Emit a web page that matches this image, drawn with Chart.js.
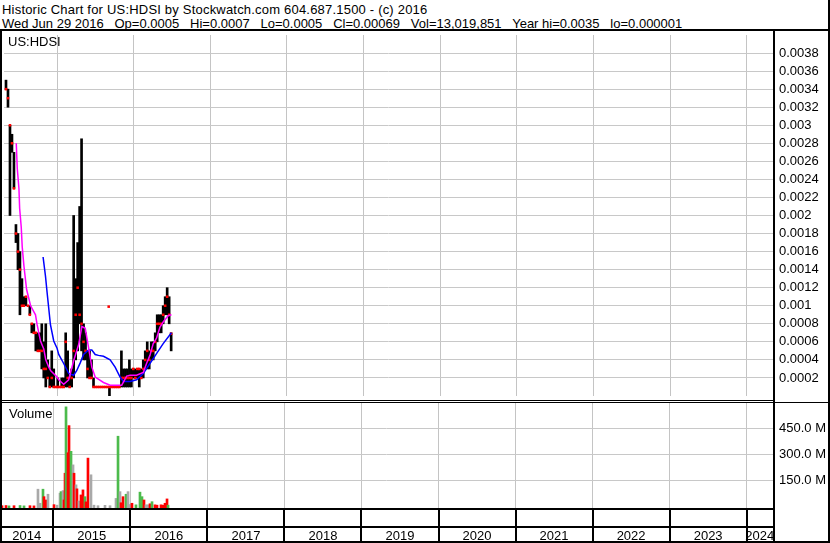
<!DOCTYPE html>
<html>
<head>
<meta charset="utf-8">
<script src="https://cdn.jsdelivr.net/npm/chart.js@4.4.0/dist/chart.umd.min.js"></script>
<style>
  html, body { margin: 0; padding: 0; background: #fff; }
  #wrap { position: relative; width: 830px; height: 543px; overflow: hidden; font-family: "Liberation Sans", Arial, sans-serif; }
  #head { position: absolute; left: 0; top: 0; width: 830px; height: 31px; box-sizing: border-box;
          border-bottom: 2px solid #000; border-right: 2px solid #000;
          font-size: 13px; line-height: 13.5px; white-space: pre; padding: 3px 0 0 2px; color: #000; }
  #head .l1 { letter-spacing: 0.2px; }
  canvas { position: absolute; left: 0; }
  #price { top: 31px; }
  #vol { top: 400px; }
</style>
</head>
<body>
<div id="wrap">
  <div id="head"><div class="l1">Historic Chart for US:HDSI by Stockwatch.com 604.687.1500 - (c) 2016</div><div>Wed Jun 29 2016   Op=0.0005   Hi=0.0007   Lo=0.0005   Cl=0.00069   Vol=13,019,851   Year hi=0.0035   lo=0.000001</div></div>
  <canvas id="price" width="830" height="369"></canvas>
  <canvas id="vol" width="830" height="143"></canvas>
</div>
<script>
// price bars (dates as decimal years)
const barYears = [
  2014.334, 2014.360, 2014.386, 2014.412, 2014.438, 2014.464, 2014.490, 2014.516, 2014.542, 2014.568,
  2014.594, 2014.620, 2014.645, 2014.671, 2014.697, 2014.723, 2014.749, 2014.775, 2014.801, 2014.827,
  2014.853, 2014.879, 2014.905, 2014.931, 2014.957, 2014.983, 2015.009, 2015.035, 2015.061, 2015.087,
  2015.113, 2015.139, 2015.165, 2015.191, 2015.217, 2015.243, 2015.269, 2015.295, 2015.320, 2015.346,
  2015.372, 2015.398, 2015.424, 2015.450, 2015.476, 2015.502, 2015.528, 2015.554, 2015.580, 2015.606,
  2015.632, 2015.658, 2015.684, 2015.710, 2015.736, 2015.762, 2015.788, 2015.814, 2015.840, 2015.866,
  2015.892, 2015.918, 2015.944, 2015.970, 2015.995, 2016.021, 2016.047, 2016.073, 2016.099, 2016.125,
  2016.151, 2016.177, 2016.203, 2016.229, 2016.255, 2016.281, 2016.307, 2016.333, 2016.359, 2016.385,
  2016.411, 2016.437, 2016.463, 2016.489
];
const barHigh = [
  0.0035, 0.0034, 0.0030, 0.0029, 0.0027, 0.0019, 0.0018, 0.0016, 0.0013, 0.0011,
  0.0011, 0.0010, 0.0010, 0.0008, 0.0008, 0.0007, 0.0007, 0.0007, 0.0008, 0.0006,
  0.0008, 0.0004, 0.0003, 0.0005, 0.0003, 0.0001, 0.0002, 0.0001, 0.0002, 0.0002,
  0.0007, 0.0005, 0.0002, 0.0003, 0.0020, 0.0013, 0.0017, 0.0021, 0.00285, 0.0008,
  0.0007, 0.0005, 0.0005, 0.0004, 0.0002, 0.0001, 0.0001, 0.0001, 0.0001, 0.0001,
  0.0001, 0.0001, 0.0001, 0.0001, 0.0001, 0.0001, 0.0001, 0.0001, 0.0005, 0.0003,
  0.0003, 0.0003, 0.0004, 0.0003, 0.0003, 0.0003, 0.0003, 0.0003, 0.0003, 0.0004,
  0.0005, 0.0006, 0.0005, 0.0006, 0.0006, 0.0007, 0.0009, 0.0009, 0.0009, 0.0010,
  0.0011, 0.0012, 0.0011, 0.0007
];
const barLow = [
  0.0034, 0.0032, 0.0020, 0.0027, 0.0023, 0.0017, 0.0014, 0.0009, 0.0010, 0.0010,
  0.0010, 0.0010, 0.0009, 0.0007, 0.0007, 0.0005, 0.0005, 0.0005, 0.0003, 0.0002,
  0.0001, 0.0002, 0.0001, 0.0001, 0.0001, 0.0001, 0.0001, 0.0001, 0.0001, 0.0001,
  0.0001, 0.0001, 0.0001, 0.0001, 0.0002, 0.0004, 0.0005, 0.0008, 0.0005, 0.0004,
  0.0004, 0.0002, 0.0002, 0.0002, 0.0001, 0.0001, 0.0001, 0.0001, 0.0001, 0.0001,
  0.0001, 0.0001, 0.000001, 0.0001, 0.0001, 0.0001, 0.0001, 0.0001, 0.0001, 0.0001,
  0.0001, 0.0001, 0.0001, 0.0001, 0.0002, 0.0002, 0.0002, 0.0001, 0.0002, 0.0002,
  0.0003, 0.0003, 0.0003, 0.0004, 0.0004, 0.0005, 0.0006, 0.0007, 0.0007, 0.0008,
  0.0009, 0.0009, 0.0008, 0.0005
];
const barClose = [
  0.0034, 0.0033, 0.0030, 0.0028, 0.0023, 0.0018, 0.0016, 0.0014, 0.0010, 0.0010,
  0.0011, 0.0010, 0.0009, 0.0008, 0.0007, 0.0007, 0.0005, 0.0005, 0.0005, 0.0003,
  0.0003, 0.0002, 0.0001, 0.0002, 0.0001, 0.0001, 0.0001, 0.0001, 0.0001, 0.0001,
  0.0006, 0.0002, 0.0001, 0.0002, 0.0005, 0.0009, 0.0012, 0.0009, 0.0008, 0.0006,
  0.0005, 0.0003, 0.0002, 0.0002, 0.0001, 0.0001, 0.0001, 0.0001, 0.0001, 0.0001,
  0.0001, 0.0001, 0.0001, 0.0001, 0.0001, 0.0001, 0.0001, 0.0001, 0.0002, 0.0002,
  0.0002, 0.0002, 0.0002, 0.0002, 0.0003, 0.0002, 0.0003, 0.0003, 0.0002, 0.0003,
  0.0004, 0.0005, 0.0004, 0.0005, 0.0005, 0.0006, 0.0008, 0.0008, 0.0008, 0.0009,
  0.0010, 0.0011, 0.0009, 0.00069
];
const strayYears = [2015.674];
const strayPrices = [0.00099];

// moving averages
const fastYears = [
  2014.468, 2014.481, 2014.503, 2014.512, 2014.533, 2014.546, 2014.568, 2014.603, 2014.655, 2014.719,
  2014.740, 2014.784, 2014.827, 2014.853, 2014.892, 2014.918, 2015.000, 2015.022, 2015.087, 2015.152,
  2015.217, 2015.282, 2015.324, 2015.368, 2015.411, 2015.454, 2015.498, 2015.606, 2015.693, 2015.844,
  2015.909, 2015.953, 2016.038, 2016.125, 2016.168, 2016.212, 2016.255, 2016.298, 2016.342, 2016.385,
  2016.450, 2016.493
];
const fastValues = [
  0.0028, 0.00252, 0.0023, 0.00208, 0.00187, 0.00165, 0.00144, 0.00118, 0.0010, 0.0009,
  0.00079, 0.00061, 0.00052, 0.0004, 0.00032, 0.00028, 0.00021, 0.00018, 0.00013, 0.00018,
  0.00039, 0.00057, 0.00077, 0.00075, 0.00054, 0.00032, 0.00021, 0.00015, 0.00012, 0.00012,
  0.00022, 0.00023, 0.00023, 0.00026, 0.00036, 0.00045, 0.00058, 0.00064, 0.00076, 0.00082,
  0.00089, 0.0009
];
const slowYears = [
  2014.818, 2014.849, 2014.870, 2014.914, 2014.957, 2015.000, 2015.022, 2015.087, 2015.152, 2015.217,
  2015.256, 2015.304, 2015.346, 2015.411, 2015.454, 2015.498, 2015.541, 2015.606, 2015.693, 2015.758,
  2015.823, 2015.866, 2015.953, 2016.038, 2016.125, 2016.212, 2016.298, 2016.385, 2016.493
];
const slowValues = [
  0.00154, 0.00133, 0.00115, 0.00079, 0.00061, 0.00053, 0.00046, 0.00036, 0.00025, 0.00023,
  0.00028, 0.00037, 0.00046, 0.00051, 0.00051, 0.00046, 0.00045, 0.00044, 0.0004, 0.00032,
  0.00021, 0.00016, 0.00016, 0.00018, 0.00025, 0.00036, 0.00047, 0.00058, 0.0007
];

// volume
const volYears = [
  2014.334, 2014.386, 2014.425, 2014.490, 2014.568, 2014.620, 2014.697, 2014.749, 2014.801, 2014.827,
  2014.866, 2014.879, 2014.905, 2014.931, 2015.009, 2015.048, 2015.087, 2015.100, 2015.126, 2015.139,
  2015.152, 2015.165, 2015.191, 2015.204, 2015.230, 2015.256, 2015.269, 2015.295, 2015.307, 2015.333,
  2015.359, 2015.385, 2015.411, 2015.424, 2015.450, 2015.489, 2015.528, 2015.580, 2015.671, 2015.736,
  2015.814, 2015.840, 2015.866, 2015.879, 2015.905, 2015.944, 2015.970, 2015.995, 2016.021, 2016.073,
  2016.125, 2016.151, 2016.177, 2016.203, 2016.229, 2016.255, 2016.281, 2016.320, 2016.346, 2016.398,
  2016.424, 2016.450, 2016.476, 2016.489
];
const volValues = [
  3e6, 4e6, 2e6, 3e6, 4e6, 2e6, 3e6, 2e6, 98e6, 17e6,
  98e6, 55e6, 36e6, 69e6, 9e6, 6e6, 75e6, 84e6, 90e6, 36e6,
  190e6, 572e6, 308e6, 464e6, 316e6, 238e6, 190e6, 123e6, 100e6, 30e6,
  65e6, 94e6, 55e6, 25e6, 277e6, 181e6, 6e6, 3e6, 5e6, 3e6,
  45e6, 403e6, 84e6, 20e6, 55e6, 69e6, 84e6, 10e6, 17e6, 8e6,
  81e6, 55e6, 36e6, 8e6, 8e6, 14e6, 26e6, 8e6, 6e6, 8e6,
  6e6, 17e6, 42e6, 6e6
];
const volDir = [
  'd', 'd', 'u', 'd', 'u', 'u', 'd', 'd', 'f', 'f',
  'u', 'd', 'd', 'f', 'd', 'f', 'f', 'u', 'f', 'd',
  'd', 'u', 'd', 'd', 'u', 'f', 'd', 'f', 'd', 'f',
  'd', 'd', 'u', 'd', 'd', 'f', 'f', 'f', 'f', 'f',
  'f', 'u', 'f', 'd', 'd', 'u', 'f', 'f', 'd', 'u',
  'u', 'u', 'd', 'f', 'f', 'd', 'u', 'd', 'd', 'd',
  'd', 'd', 'd', 'u'
];

// axes
const priceTicks = [0.0002, 0.0004, 0.0006, 0.0008, 0.001, 0.0012, 0.0014, 0.0016, 0.0018, 0.002,
  0.0022, 0.0024, 0.0026, 0.0028, 0.003, 0.0032, 0.0034, 0.0036, 0.0038];
const volTicks = [150e6, 300e6, 450e6];
const yearBreaks = [2015, 2016, 2017, 2018, 2019, 2020, 2021, 2022, 2023, 2024];
const yearLabels = [2014, 2015, 2016, 2017, 2018, 2019, 2020, 2021, 2022, 2023, 2024];
const ticker = 'US:HDSI';

const xStart = 2014.308, xEnd = 2024.342;
const FONT = '"Liberation Sans", Arial, sans-serif';
const dirColor = { u: '#4cbb4c', d: '#ff0000', f: '#a9a9a9' };

Chart.defaults.font.family = FONT;
Chart.defaults.font.size = 13;
Chart.defaults.color = '#000';

const noPad = s => { s.paddingTop = 0; s.paddingBottom = 0; s.paddingLeft = 0; s.paddingRight = 0; };

function xAxis() {
  return {
    type: 'linear', min: xStart, max: xEnd, offset: false,
    grid: { color: '#c4c4c4', drawTicks: false, offset: false },
    border: { display: false },
    ticks: { display: false },
    afterBuildTicks: s => { s.ticks = yearBreaks.map(v => ({ value: v })); },
    afterFit: s => { s.height = 0; noPad(s); }
  };
}

const priceFrame = {
  id: 'priceFrame',
  afterDraw(chart) {
    const { ctx, chartArea: a } = chart;
    ctx.save();
    ctx.fillStyle = '#000';
    ctx.fillRect(0, 0, 2, chart.height);
    ctx.fillRect(a.right, 0, 2, chart.height);
    ctx.fillRect(chart.width - 2, 0, 2, chart.height);
    ctx.font = '13px ' + FONT;
    ctx.fillText(ticker, 8, 15);
    ctx.restore();
  }
};

new Chart(document.getElementById('price'), {
  type: 'bar',
  data: {
    datasets: [
      {
        type: 'line', order: 1,
        data: fastYears.map((t, i) => ({ x: t, y: fastValues[i] })),
        borderColor: '#ff00ff', borderWidth: 1.5, pointRadius: 0, tension: 0
      },
      {
        type: 'line', order: 2,
        data: slowYears.map((t, i) => ({ x: t, y: slowValues[i] })),
        borderColor: '#0000ff', borderWidth: 1.5, pointRadius: 0, tension: 0
      },
      {
        type: 'line', order: 3, showLine: false,
        data: barYears.map((t, i) => ({ x: t, y: barClose[i] }))
          .concat(strayYears.map((t, i) => ({ x: t, y: strayPrices[i] }))),
        pointStyle: 'rect', pointRadius: 1.8, borderWidth: 0,
        backgroundColor: '#ff0000', pointBackgroundColor: '#ff0000'
      },
      {
        type: 'bar', order: 4,
        data: barYears.map((t, i) => ({ x: t, y: [barLow[i], barHigh[i]] })),
        backgroundColor: '#000', barThickness: 2, borderWidth: 0
      }
    ]
  },
  options: {
    responsive: false, animation: false, devicePixelRatio: 1,
    layout: { padding: 0 },
    plugins: { legend: { display: false }, tooltip: { enabled: false } },
    scales: {
      x: xAxis(),
      y: {
        position: 'right', min: 0, max: 0.004,
        grid: { color: '#c8c8c8', drawTicks: false },
        border: { display: false },
        ticks: { padding: 6, autoSkip: false, callback: v => String(Number(v.toFixed(4))) },
        afterBuildTicks: s => { s.ticks = priceTicks.map(v => ({ value: v })); },
        afterFit: s => { s.width = 57; noPad(s); }
      }
    }
  },
  plugins: [priceFrame]
});

const volFrame = {
  id: 'volFrame',
  afterDraw(chart) {
    const { ctx, chartArea: a } = chart;
    const x = chart.scales.x;
    const w = chart.width, h = chart.height;
    ctx.save();
    ctx.fillStyle = '#000';
    ctx.fillRect(0, 0, a.right, 1);
    ctx.fillRect(0, 2, w, 1);
    ctx.fillRect(0, 0, 2, h);
    ctx.fillRect(a.right, 0, 2, h);
    ctx.fillRect(w - 2, 0, 2, h);
    ctx.fillRect(0, a.bottom - 1, a.right, 2);
    ctx.fillRect(0, a.bottom + 17, a.right, 2);
    ctx.fillRect(0, h - 2, w, 2);
    yearBreaks.forEach(v => {
      const px = Math.round(x.getPixelForValue(v));
      ctx.fillRect(px - 1, a.bottom, 2, h - a.bottom);
    });
    ctx.font = '13px ' + FONT;
    ctx.textAlign = 'center';
    yearLabels.forEach(yr => {
      const l = x.getPixelForValue(Math.max(yr, x.min));
      const r = x.getPixelForValue(Math.min(yr + 1, x.max));
      ctx.fillText(String(yr), (l + r) / 2, h - 3);
    });
    ctx.textAlign = 'left';
    ctx.fillText('Volume', 9, 17.5);
    ctx.restore();
  }
};

const volMin = -16e6;
new Chart(document.getElementById('vol'), {
  type: 'bar',
  data: {
    datasets: [{
      data: volYears.map((t, i) => ({ x: t, y: volValues[i] })),
      backgroundColor: volDir.map(d => dirColor[d]),
      barThickness: 2, borderWidth: 0, base: volMin
    }]
  },
  options: {
    responsive: false, animation: false, devicePixelRatio: 1,
    layout: { padding: { top: 2, bottom: 34, left: 0, right: 0 } },
    plugins: { legend: { display: false }, tooltip: { enabled: false } },
    scales: {
      x: xAxis(),
      y: {
        position: 'right', min: volMin, max: 600e6,
        grid: { color: '#c8c8c8', drawTicks: false },
        border: { display: false },
        ticks: { padding: 6, autoSkip: false, callback: v => (v / 1e6).toFixed(1) + ' M' },
        afterBuildTicks: s => { s.ticks = volTicks.map(v => ({ value: v })); },
        afterFit: s => { s.width = 57; noPad(s); }
      }
    }
  },
  plugins: [volFrame]
});
</script>
</body>
</html>
